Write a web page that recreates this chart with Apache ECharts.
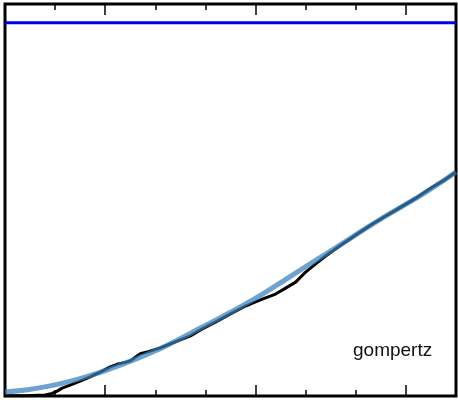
<!DOCTYPE html>
<html>
<head>
<meta charset="utf-8">
<script src="https://cdn.jsdelivr.net/npm/echarts@6/dist/echarts.min.js"></script>
<style>
    html, body { margin: 0; padding: 0; background: #fff; }
    #chart1 { width: 458px; height: 400px; }
</style>
</head>
<body>
<div id="chart1"></div>
<script>
// measured curve (time, normalised OD)
var timeObs = [0, 4, 8, 9.4, 10.4, 11.4, 13, 15, 17, 19, 21, 22.6, 24, 25, 26, 27, 28.6, 31, 34, 37, 39, 42, 45, 48, 50, 52, 54, 56, 58, 60, 62, 64, 67, 70, 73, 76, 79, 82, 85, 88, 90];
var odObs = [0.001, 0.001, 0.003, 0.007, 0.013, 0.021, 0.029, 0.040, 0.051, 0.064, 0.078, 0.086, 0.090, 0.094, 0.104, 0.113, 0.119, 0.129, 0.145, 0.161, 0.177, 0.198, 0.220, 0.241, 0.252, 0.263, 0.273, 0.289, 0.305, 0.332, 0.354, 0.375, 0.404, 0.431, 0.458, 0.482, 0.506, 0.530, 0.557, 0.581, 0.600];

// gompertz fit
var timeFit = [0, 4, 9, 14, 19, 24, 29, 34, 39, 44, 49, 54, 59, 64, 69, 74, 79, 84, 90];
var odFit = [0.011, 0.016, 0.027, 0.043, 0.063, 0.088, 0.115, 0.147, 0.182, 0.217, 0.254, 0.295, 0.338, 0.380, 0.423, 0.466, 0.506, 0.546, 0.600];

// carrying capacity line
var capacity = [1.0];

// tick positions along x (labels are not shown in the figure)
var tickLabels = ['0', '10', '20', '30', '40', '50', '60', '70', '80', '90'];
var majorLabels = ['20', '50', '80'];

var xMin = 0, xMax = 90;
var fitName = 'gompertz';

function pairs (xs, ys) {
    var out = [];
    for (var i = 0; i < xs.length; i++) {
        out.push([xs[i], ys[i]]);
    }
    return out;
}

// category axis used only to draw the inward ticks
function tickAxis (pos, len, majorOnly) {
    return {
        type: 'category',
        position: pos,
        data: tickLabels,
        boundaryGap: false,
        axisLine: { show: false },
        axisLabel: { show: false },
        splitLine: { show: false },
        axisTick: {
            show: true,
            inside: true,
            length: len,
            interval: function (idx, val) {
                return majorOnly ? majorLabels.indexOf(val) >= 0 : true;
            },
            lineStyle: { color: '#000', width: 1.5 }
        }
    };
}

function cc () {
    var myChart = echarts.init(document.getElementById('chart1'));

    option = {
        animation: false,
        backgroundColor: '#fff',
        grid: {
            left: 5, right: 2, top: 4, bottom: 4,
            show: true,
            borderColor: '#000',
            borderWidth: 3
        },
        xAxis: [
            {
                type: 'value',
                min: xMin,
                max: xMax,
                axisLine: { show: false },
                axisTick: { show: false },
                axisLabel: { show: false },
                splitLine: { show: false }
            },
            tickAxis('bottom', 6, false),
            tickAxis('bottom', 11, true),
            tickAxis('top', 6, false),
            tickAxis('top', 11, true)
        ],
        yAxis: [
            {
                type: 'value',
                min: 0,
                max: 1.05,
                axisLine: { show: false },
                axisTick: { show: false },
                axisLabel: { show: false },
                splitLine: { show: false }
            }
        ],
        graphic: [
            {
                type: 'text',
                left: 353,
                top: 341,
                style: {
                    text: fitName,
                    fill: '#111',
                    font: '19px "Liberation Sans", Arial, sans-serif'
                }
            }
        ],
        series: [
            {
                name: 'capacity',
                type: 'line',
                showSymbol: false,
                data: [[xMin, capacity[0]], [xMax, capacity[0]]],
                lineStyle: { color: '#0000ee', width: 3 }
            },
            {
                name: 'data',
                type: 'line',
                showSymbol: false,
                data: pairs(timeObs, odObs),
                lineStyle: { color: '#000', width: 3 }
            },
            {
                name: fitName,
                type: 'line',
                smooth: true,
                showSymbol: false,
                data: pairs(timeFit, odFit),
                lineStyle: { color: '#377eb8', width: 5, opacity: 0.72 }
            }
        ]
    };

    myChart.setOption(option);
}

cc();
</script>
</body>
</html>
